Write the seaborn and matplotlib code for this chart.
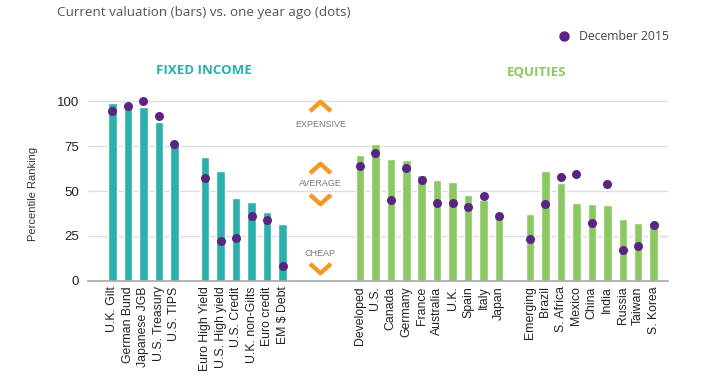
import numpy as np
import pandas as pd
import matplotlib.pyplot as plt
import seaborn as sns
from matplotlib.path import Path
from matplotlib.lines import Line2D

# data
fixed_a = ["U.K. Gilt", "German Bund", "Japanese JGB", "U.S. Treasury", "U.S. TIPS"]
fixed_a_now = [99, 98.5, 97, 88.5, 77]
fixed_a_ago = [94.5, 97.5, 100, 92, 76]

fixed_b = ["Euro High Yield", "U.S. High yield", "U.S. Credit", "U.K. non-Gilts", "Euro credit", "EM $ Debt"]
fixed_b_now = [69, 61, 46, 44, 38.5, 31.5]
fixed_b_ago = [57, 22, 24, 36, 34, 8.5]

developed = ["Developed", "U.S.", "Canada", "Germany", "France", "Australia", "U.K.", "Spain", "Italy", "Japan"]
developed_now = [70, 76, 68, 67, 59, 56, 55, 48, 45, 38.5]
developed_ago = [64, 71, 45, 63, 56, 43.5, 43.5, 41, 47, 36]

emerging = ["Emerging", "Brazil", "S. Africa", "Mexico", "China", "India", "Russia", "Taiwan", "S. Korea"]
emerging_now = [37, 61, 54.5, 43.5, 43, 42, 34.5, 32, 30.5]
emerging_ago = [23.5, 43, 58, 59.5, 32, 54, 17, 19.5, 31]

teal = "#2bb0aa"
green = "#8cc862"
purple = "#5a2484"
orange = "#f39a26"

rows = []
for names, now, ago, grp in [(fixed_a, fixed_a_now, fixed_a_ago, "fixed"),
                             (fixed_b, fixed_b_now, fixed_b_ago, "fixed"),
                             (developed, developed_now, developed_ago, "equity"),
                             (emerging, emerging_now, emerging_ago, "equity")]:
    for n, v, d in zip(names, now, ago):
        rows.append({"name": n, "now": v, "ago": d, "group": grp})
df = pd.DataFrame(rows)

# spacer slots between groups
order = fixed_a + [" "] + fixed_b + ["  ", "   ", "    ", "     "] + developed + ["      "] + emerging

sns.set_style("white")
plt.rcParams['font.family'] = ['Liberation Sans', 'DejaVu Sans']

fig = plt.figure(figsize=(7.02, 3.89), dpi=100)
ax = fig.add_axes([0.1254, 0.278, 0.8256, 0.485])

sns.barplot(data=df, x="name", y="now", hue="group", order=order,
            palette={"fixed": teal, "equity": green}, dodge=False,
            width=0.55, legend=False, ax=ax, saturation=1)
sns.stripplot(data=df, x="name", y="ago", order=order, jitter=False,
              color=purple, size=6.5, linewidth=0, ax=ax, zorder=5)

ax.set_ylim(0, 105)
ax.set_xlim(-1.58, 35.9)
ax.set_yticks([0, 25, 50, 75, 100])
ax.yaxis.grid(True, color="#dedede", lw=1)
ax.set_axisbelow(True)
for s in ["top", "right", "left"]:
    ax.spines[s].set_visible(False)
ax.spines["bottom"].set_color("#a8a8a8")
ax.spines["bottom"].set_linewidth(1.2)
ax.tick_params(axis="both", length=0, pad=4)
ax.tick_params(axis="y", labelsize=9.5, labelcolor="#222222", pad=6.5)
ax.set_xticks(range(len(order)))
ax.set_xticklabels(order, rotation=90, fontsize=8.8, color="#222222")
ax.set_xlabel("")
ax.set_ylabel("Percentile Ranking", fontsize=8, color="#333333")
ax.yaxis.set_label_coords(-0.087, 0.46)

# group headers
ax.text(5.9, 117, "FIXED INCOME", color=teal, fontsize=9.5, fontweight="bold",
        ha="center", va="center", family="Open Sans", clip_on=False)
ax.text(27.4, 116, "EQUITIES", color=green, fontsize=9.5, fontweight="bold",
        ha="center", va="center", family="Open Sans", clip_on=False)

# valuation guide
up = Path([(-1, -0.45), (0, 0.45), (1, -0.45)], [Path.MOVETO, Path.LINETO, Path.LINETO])
down = Path([(-1, 0.45), (0, -0.45), (1, 0.45)], [Path.MOVETO, Path.LINETO, Path.LINETO])
gx = 13.45
for y, m in [(97.5, up), (63, up), (45.5, down), (7, down)]:
    ax.plot([gx], [y], marker=m, markersize=15, mew=3.2, color=orange,
            fillstyle="none", clip_on=False)
for y, t in [(87, "EXPENSIVE"), (54, "AVERAGE"), (15.5, "CHEAP")]:
    ax.text(gx, y, t, fontsize=6.5, color="#777777", ha="center", va="center")

fig.text(0.081, 0.968, "Current valuation (bars) vs. one year ago (dots)",
         fontsize=9.7, color="#555555", family="Open Sans", va="center")

handle = Line2D([], [], marker="o", color=purple, lw=0, markersize=6.5)
fig.legend([handle], ["December 2015"], loc="center right", bbox_to_anchor=(0.968, 0.905),
           frameon=False, labelcolor="#444444", handletextpad=0.2,
           prop={"family": "Open Sans", "size": 8.8})

fig.savefig("out.png", dpi=100)
